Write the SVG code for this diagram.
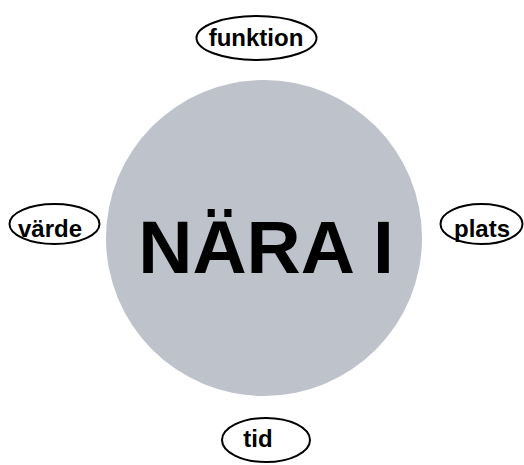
<svg xmlns="http://www.w3.org/2000/svg" width="524" height="465" viewBox="0 0 524 465">
<style>
.lbl{font-family:"Liberation Sans",Arial,sans-serif;font-weight:bold;font-size:24px;fill:#000;text-anchor:middle}
.ell{fill:#fff;stroke:#000;stroke-width:2}
</style>
<rect width="524" height="465" fill="#fff"/>
<g id="center">
<circle cx="264" cy="238" r="158" fill="#bdc2cb"/>
<text x="266" y="273" font-family="Liberation Sans,Arial,sans-serif" font-weight="bold" font-size="75" text-anchor="middle" fill="#000">NÄRA I</text>
</g>
<g id="connectors"></g>
<g id="funktion">
<ellipse class="ell" cx="256.5" cy="38" rx="60" ry="22"/>
<text class="lbl" x="256" y="46">funktion</text>
</g>
<g id="varde">
<ellipse class="ell" cx="54.5" cy="224" rx="45" ry="20"/>
<text class="lbl" x="50" y="237">värde</text>
</g>
<g id="plats">
<ellipse class="ell" cx="481.5" cy="224" rx="41" ry="20"/>
<text class="lbl" x="482" y="237">plats</text>
</g>
<g id="tid">
<ellipse class="ell" cx="266" cy="440" rx="44" ry="22"/>
<text class="lbl" x="258" y="447">tid</text>
</g>
</svg>
